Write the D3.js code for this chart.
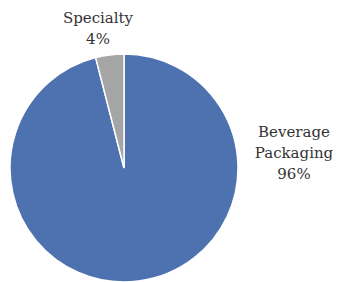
<!DOCTYPE html>
<html>
<head>
<meta charset="utf-8">
<script src="https://cdn.jsdelivr.net/npm/d3@7"></script>
<style>
  body { margin: 0; background: #fff; }
</style>
</head>
<body>
<div id="chart"></div>
<script>
// segment names and shares (percent)
var categories = ["Beverage Packaging", "Specialty"];
var shares = [96, 4];
var labelLines = [["Beverage", "Packaging", "96%"], ["Specialty", "4%"]];
var colors = ["#4e71b0", "#a5a5a5"];

var width = 337, height = 282;
var cx = 124, cy = 168, radius = 114;

var svg = d3.select("#chart").append("svg")
	.attr("width", width)
	.attr("height", height);

var g = svg.append("g")
	.attr("transform", "translate(" + cx + "," + cy + ")");

var pie = d3.pie().sort(null).value(function(d){ return d; });
var arc = d3.arc().innerRadius(0).outerRadius(radius);
var arcs = pie(shares);

g.selectAll("path")
	.data(arcs)
  .enter().append("path")
	.attr("d", arc)
	.style("fill", function(d, i){ return colors[i]; })
	.style("stroke", "#fff")
	.style("stroke-width", 1.5);

// labels sit outside the pie
var labelPos = [[294, 137], [98, 23]];
arcs.forEach(function(d, i){
	var t = svg.append("text")
		.attr("text-anchor", "middle")
		.attr("font-family", "'DejaVu Serif', serif")
		.attr("font-size", 15)
		.attr("fill", "#333");
	labelLines[i].forEach(function(line, j){
		t.append("tspan")
			.attr("x", labelPos[i][0])
			.attr("y", labelPos[i][1] + j * 21)
			.text(line);
	});
});
</script>
</body>
</html>
